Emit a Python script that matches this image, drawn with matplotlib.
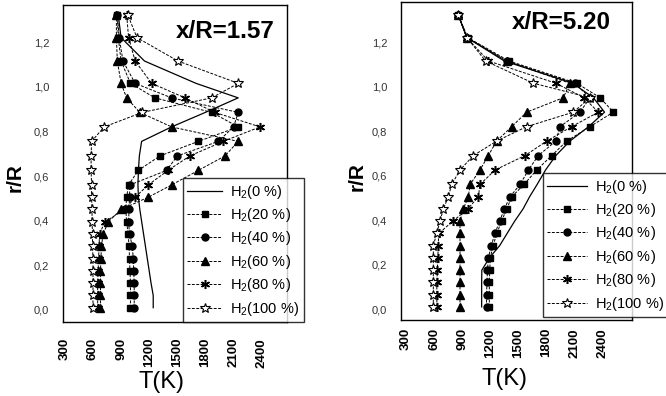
import matplotlib
matplotlib.use('Agg')
import matplotlib.pyplot as plt

plt.rcParams['font.family'] = ['Liberation Sans', 'DejaVu Sans']
plt.rcParams['mathtext.fontset'] = 'custom'
plt.rcParams['mathtext.rm'] = 'Liberation Sans'
plt.rcParams['mathtext.it'] = 'Liberation Sans:italic'

# radial positions r/R (shared by both stations)
r_R = [0.01, 0.065, 0.12, 0.175, 0.23, 0.285, 0.34, 0.395, 0.45, 0.505, 0.56,
       0.625, 0.69, 0.755, 0.82, 0.885, 0.95, 1.015, 1.115, 1.22, 1.32]

# x/R = 1.57, temperatures in K
T157_h0 = [1243, 1243, 1220, 1200, 1180, 1160, 1140, 1120, 1100, 1085, 1080,
           1085, 1095, 1119, 1439, 1800, 2150, 1700, 1150, 900, 870]
T157_h20 = [1000, 1000, 1000, 995, 990, 985, 975, 960, 950, 959, 980,
            1083, 1315, 1724, 2151, 1866, 1261, 1000, 900, 870, 860]
T157_h40 = [1040, 1040, 1040, 1035, 1030, 1020, 990, 980, 985, 990, 994,
            1386, 1500, 1938, 2100, 2151, 1439, 1050, 920, 880, 860]
T157_h60 = [680, 680, 680, 680, 685, 690, 709, 763, 900, 1190, 1439,
            1724, 2009, 2150, 1439, 1100, 959, 900, 860, 850, 850]
T157_h80 = [650, 650, 650, 655, 660, 665, 670, 727, 940, 1050, 1190,
            1400, 1635, 1990, 2383, 1900, 1582, 1226, 1050, 980, 960]
T157_h100 = [600, 600, 600, 600, 600, 595, 595, 590, 590, 585, 585,
             580, 580, 585, 720, 1126, 1866, 2151, 1507, 1069, 973]

# x/R = 5.20, temperatures in K
T520_h0 = [1108, 1108, 1108, 1110, 1190, 1300, 1380, 1460, 1550, 1620, 1700,
           1790, 1900, 2050, 2250, 2420, 2300, 2080, 1350, 950, 860]
T520_h20 = [1190, 1190, 1190, 1195, 1200, 1230, 1270, 1320, 1375, 1430, 1560,
            1696, 1856, 2016, 2265, 2514, 2372, 2123, 1400, 960, 860]
T520_h40 = [1160, 1160, 1165, 1170, 1180, 1210, 1250, 1300, 1350, 1411, 1518,
            1607, 1713, 1900, 1945, 2158, 2265, 2100, 1375, 950, 860]
T520_h60 = [877, 877, 877, 877, 877, 877, 877, 877, 912, 966, 984,
            1090, 1179, 1268, 1429, 1589, 1980, 2050, 1375, 950, 860]
T520_h80 = [630, 630, 630, 635, 640, 645, 650, 800, 960, 1073, 1090,
            1251, 1571, 1802, 2069, 2354, 2200, 1900, 1180, 950, 860]
T520_h100 = [592, 592, 592, 592, 592, 592, 628, 663, 699, 752, 788,
             877, 1019, 1268, 1589, 2087, 2265, 1660, 1150, 950, 860]

labels = ['H$_2$(0 %)', 'H$_2$(20 %)', 'H$_2$(40 %)', 'H$_2$(60 %)',
          'H$_2$(80 %)', 'H$_2$(100 %)']
x_ticks = [300, 600, 900, 1200, 1500, 1800, 2100, 2400]
y_ticks = [0.0, 0.2, 0.4, 0.6, 0.8, 1.0, 1.2]
y_ticklabels = ['0,0', '0,2', '0,4', '0,6', '0,8', '1,0', '1,2']

styles = [
    dict(ls='-', lw=0.9, marker=None),
    dict(ls=(0, (3, 1.5)), lw=0.7, marker='s', ms=4.5),
    dict(ls=(0, (3, 1.5)), lw=0.7, marker='o', ms=5),
    dict(ls=(0, (3, 1.5)), lw=0.7, marker='^', ms=6),
    dict(ls=(0, (3, 1.5)), lw=0.7, marker=(6, 2, 0), ms=6.5, mew=1.1),
    dict(ls=(0, (3, 1.5)), lw=0.7, marker='*', ms=7.5, mfc='white', mew=0.8),
]

fig = plt.figure(figsize=(6.66, 3.96), dpi=100)
ax1 = fig.add_axes([63/666, 74/396, 224/666, 317/396])
ax2 = fig.add_axes([401/666, 76/396, 231/666, 318/396])

panels = [
    (ax1, [T157_h0, T157_h20, T157_h40, T157_h60, T157_h80, T157_h100],
     'x/R=1.57', (280, 2671), (-0.054, 1.366), 11.5, (0.723, 0.915),
     (0.44, -0.155), (-0.17, 0.457), (183/666, 74/396), 2.4),
    (ax2, [T520_h0, T520_h20, T520_h40, T520_h60, T520_h80, T520_h100],
     'x/R=5.20', (247, 2713), (-0.049, 1.38), 5.8, (0.693, 0.934),
     (0.446, -0.151), (-0.147, 0.45), (543/666, 79/396), 2.7),
]

for ax, series, title, xl, yl, xpad, tpos, xlab, ylab, legpos, hl in panels:
    for T, lab, st in zip(series, labels, styles):
        ax.plot(T, r_R, color='black', label=lab, **st)
    ax.set_xlim(xl)
    ax.set_ylim(yl)
    ax.set_xticks(x_ticks)
    ax.set_xticklabels([str(v) for v in x_ticks], rotation=90,
                       fontsize=9.5, fontweight='bold')
    ax.set_yticks(y_ticks)
    ax.set_yticklabels(y_ticklabels, fontsize=8, color='#333333')
    ax.tick_params(axis='x', length=0, pad=xpad)
    ax.tick_params(axis='y', length=0, pad=10)
    for sp in ax.spines.values():
        sp.set_linewidth(1.0)
    ax.text(tpos[0], tpos[1], title, transform=ax.transAxes, fontsize=17.5,
            fontweight='bold', ha='center', va='center')
    ax.set_xlabel('T(K)', fontsize=17)
    ax.xaxis.set_label_coords(*xlab)
    ax.set_ylabel('r/R', fontsize=15, fontweight='bold')
    ax.yaxis.set_label_coords(*ylab)
    leg = ax.legend(loc='lower left', bbox_to_anchor=legpos,
                    bbox_transform=fig.transFigure, fontsize=10.5,
                    frameon=True, fancybox=False, shadow=False,
                    handlelength=hl, labelspacing=0.37, borderpad=0.3,
                    handletextpad=0.55, borderaxespad=0)
    leg.get_frame().set_edgecolor('black')
    leg.get_frame().set_linewidth(1.0)

fig.savefig('out.png', dpi=100)
